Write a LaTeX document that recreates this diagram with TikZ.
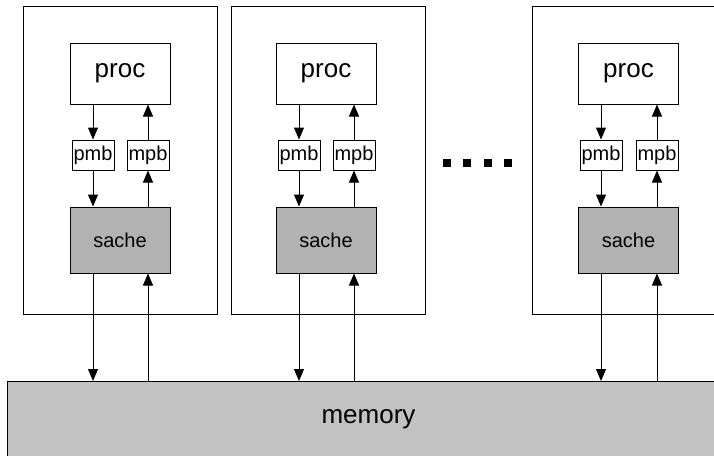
\documentclass[tikz,border=0pt]{standalone}
\usepackage{fontspec}
\setmainfont{Liberation Sans}
\usetikzlibrary{arrows.meta}

\tikzset{
	frame/.style={draw, line width=1pt, minimum width=194pt, minimum height=308pt, inner sep=0pt},
	procbox/.style={draw, line width=1pt, fill=white, minimum width=100pt, minimum height=61pt, inner sep=0pt, font=\fontsize{26}{26}\selectfont},
	bufbox/.style={draw, line width=1pt, fill=white, minimum width=42pt, minimum height=30pt, inner sep=0pt, font=\fontsize{20}{20}\selectfont},
	sachebox/.style={draw, line width=1pt, fill=black!30, minimum width=100pt, minimum height=66pt, inner sep=0pt, font=\fontsize{20}{20}\selectfont},
	membox/.style={draw, line width=1pt, fill=black!24, minimum width=723pt, minimum height=75pt, inner sep=0pt, font=\fontsize{26}{26}\selectfont},
	dotsq/.style={fill=black, minimum size=8pt, inner sep=0pt}
}

\begin{document}
\begin{tikzpicture}[x=1pt, y=-1pt, >={Triangle[length=12pt,width=10pt]}, line width=1pt]
	\clip (0,0) rectangle (714,455);
	\fill[white] (0,0) rectangle (714,455);

	% Nodes {frames, proc, pmb, mpb, sache, memory}
	\node [frame]		(f1)	at (120,160)	{};
	\node [frame]		(f2)	at (328,160)	{};
	\node [frame]		(f3)	at (629,160)	{};

	\node [procbox]		(proc1)	at (120,73.5)	{proc};
	\node [procbox]		(proc2)	at (326,73.5)	{proc};
	\node [procbox]		(proc3)	at (628.5,73.5)	{proc};

	\node [bufbox]		(pmb1)	at (93,155)		{pmb};
	\node [bufbox]		(mpb1)	at (148,155)	{mpb};
	\node [bufbox]		(pmb2)	at (299,155)	{pmb};
	\node [bufbox]		(mpb2)	at (354,155)	{mpb};
	\node [bufbox]		(pmb3)	at (601,155)	{pmb};
	\node [bufbox]		(mpb3)	at (657,155)	{mpb};

	\node [sachebox]	(sache1) at (120,240)	{sache};
	\node [sachebox]	(sache2) at (326,240)	{sache};
	\node [sachebox]	(sache3) at (628.5,240)	{sache};

	\node [membox]		(mem)	at (368.5,419)	{memory};

	% Dots between the columns
	\node [dotsq]		(d1)	at (447,163)	{};
	\node [dotsq]		(d2)	at (467,163)	{};
	\node [dotsq]		(d3)	at (488,163)	{};
	\node [dotsq]		(d4)	at (508,163)	{};

	% Paths
	\path [->]	(proc1.south -| pmb1.north) edge	(pmb1.north);
	\path [->]	(mpb1.north) edge	(proc1.south -| mpb1.north);
	\path [->]	(pmb1.south) edge	(sache1.north -| pmb1.south);
	\path [->]	(sache1.north -| mpb1.south) edge	(mpb1.south);
	\path [->]	(sache1.south -| pmb1.south) edge	(mem.north -| pmb1.south);
	\path [->]	(mem.north -| mpb1.south) edge	(sache1.south -| mpb1.south);

	\path [->]	(proc2.south -| pmb2.north) edge	(pmb2.north);
	\path [->]	(mpb2.north) edge	(proc2.south -| mpb2.north);
	\path [->]	(pmb2.south) edge	(sache2.north -| pmb2.south);
	\path [->]	(sache2.north -| mpb2.south) edge	(mpb2.south);
	\path [->]	(sache2.south -| pmb2.south) edge	(mem.north -| pmb2.south);
	\path [->]	(mem.north -| mpb2.south) edge	(sache2.south -| mpb2.south);

	\path [->]	(proc3.south -| pmb3.north) edge	(pmb3.north);
	\path [->]	(mpb3.north) edge	(proc3.south -| mpb3.north);
	\path [->]	(pmb3.south) edge	(sache3.north -| pmb3.south);
	\path [->]	(sache3.north -| mpb3.south) edge	(mpb3.south);
	\path [->]	(sache3.south -| pmb3.south) edge	(mem.north -| pmb3.south);
	\path [->]	(mem.north -| mpb3.south) edge	(sache3.south -| mpb3.south);

\end{tikzpicture}
\end{document}
